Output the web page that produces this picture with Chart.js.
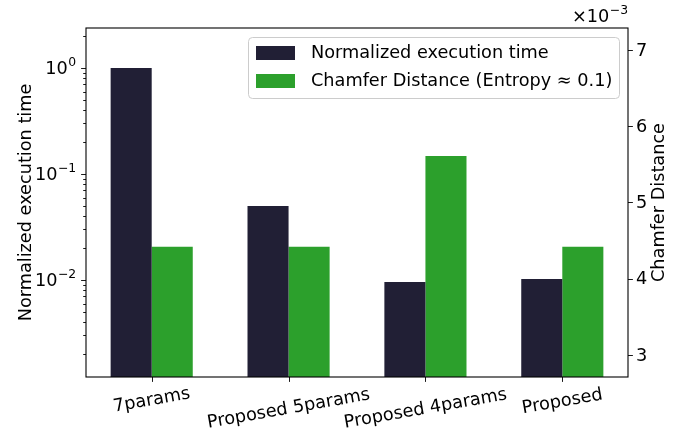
<!DOCTYPE html>
<html>
<head>
<meta charset="utf-8">
<script src="https://cdn.jsdelivr.net/npm/chart.js@4.4.1/dist/chart.umd.min.js"></script>
<style>
  html, body { margin: 0; padding: 0; background: #ffffff; }
  #wrap { width: 683px; height: 431px; }
</style>
</head>
<body>
<div id="wrap"><canvas id="c" width="683" height="431"></canvas></div>
<script>
// ---- data ----
const categories = ['7params', 'Proposed 5params', 'Proposed 4params', 'Proposed'];
const execTime = [1.0, 0.05, 0.0096, 0.0102];          // normalized execution time (log axis)
const chamfer = [0.00442, 0.00442, 0.00561, 0.00442];  // Chamfer distance (linear axis)
const seriesNames = ['Normalized execution time', 'Chamfer Distance (Entropy \u2248 0.1)'];
const logTickValues = [1e-2, 1e-1, 1];
const logTickExponents = ['\u22122', '\u22121', '0'];
const cdTickValues = [0.003, 0.004, 0.005, 0.006, 0.007];
const cdTickLabels = ['3', '4', '5', '6', '7'];
const cdScaleExponent = '\u22123';
const axisTitles = ['Normalized execution time', 'Chamfer Distance'];

// ---- style ----
const DARK = '#211f35';
const GREEN = '#2ca02c';
const FS = 17.7;
const TEXT_FONT = '"DejaVu Sans", sans-serif';
const MATH_FONT = '"DejaVu Sans", sans-serif';
const MAJOR = 4.9, MINOR = 2.8, PAD = 4.9;

function drawMath(ctx, base, exp, x, yCenter, align) {
  // "base^exp": base at full size, exponent smaller and raised
  const fsE = FS * 0.7;
  ctx.font = FS + 'px ' + MATH_FONT;
  const wb = ctx.measureText(base).width;
  ctx.font = fsE + 'px ' + MATH_FONT;
  const we = ctx.measureText(exp).width;
  const total = wb + we + 0.5;
  const x0 = align === 'right' ? x - total : x;
  const baseline = yCenter + FS * 0.365;
  ctx.textAlign = 'left';
  ctx.textBaseline = 'alphabetic';
  ctx.font = FS + 'px ' + MATH_FONT;
  ctx.fillText(base, x0, baseline);
  ctx.font = fsE + 'px ' + MATH_FONT;
  ctx.fillText(exp, x0 + wb + 0.5, baseline - FS * 0.5);
}

const decor = {
  id: 'decor',
  afterDatasetsDraw(chart) {
    const ctx = chart.ctx;
    const a = chart.chartArea;
    const xs = chart.scales.x, yl = chart.scales.y, yr = chart.scales.y2;
    ctx.save();
    ctx.fillStyle = '#000';
    ctx.strokeStyle = '#000';

    // frame
    ctx.lineWidth = 1.1;
    ctx.strokeRect(a.left, a.top, a.right - a.left, a.bottom - a.top);

    // left log ticks (major + minor)
    ctx.lineWidth = 0.9;
    ctx.beginPath();
    for (let d = -4; d <= 1; d++) {
      for (let m = 1; m <= 9; m++) {
        const v = m * Math.pow(10, d);
        if (v < yl.min || v > yl.max) continue;
        const y = Math.round(yl.getPixelForValue(v)) + 0.5;
        const len = m === 1 ? MAJOR : MINOR;
        ctx.moveTo(a.left, y); ctx.lineTo(a.left - len, y);
      }
    }
    // right ticks
    cdTickValues.forEach(v => {
      const y = Math.round(yr.getPixelForValue(v)) + 0.5;
      ctx.moveTo(a.right, y); ctx.lineTo(a.right + MAJOR, y);
    });
    // bottom ticks
    categories.forEach((c, i) => {
      const x = Math.round(xs.getPixelForValue(i)) + 0.5;
      ctx.moveTo(x, a.bottom); ctx.lineTo(x, a.bottom + MAJOR);
    });
    ctx.stroke();

    // left tick labels
    logTickValues.forEach((v, i) => {
      drawMath(ctx, '10', logTickExponents[i], a.left - MAJOR - PAD, yl.getPixelForValue(v), 'right');
    });

    // right tick labels
    ctx.font = FS + 'px ' + TEXT_FONT;
    ctx.textAlign = 'left';
    ctx.textBaseline = 'middle';
    cdTickValues.forEach((v, i) => {
      ctx.fillText(cdTickLabels[i], a.right + MAJOR + 3, yr.getPixelForValue(v) + 1);
    });

    // offset text of the right axis
    ctx.font = FS + 'px ' + MATH_FONT;
    const wx = ctx.measureText('\u00d710').width;
    ctx.font = (FS * 0.7) + 'px ' + MATH_FONT;
    const we = ctx.measureText(cdScaleExponent).width;
    drawMath(ctx, '\u00d710', cdScaleExponent, a.right - wx - we - 0.5, a.top - 12, 'left');

    // rotated category labels
    const th = 10 * Math.PI / 180;
    ctx.font = FS + 'px ' + TEXT_FONT;
    ctx.textAlign = 'left';
    ctx.textBaseline = 'alphabetic';
    categories.forEach((c, i) => {
      const m = ctx.measureText(c);
      const asc = m.actualBoundingBoxAscent, desc = m.actualBoundingBoxDescent, w = m.width;
      const pts = [[0, -asc], [w, -asc], [0, desc], [w, desc]].map(([px, py]) =>
        [px * Math.cos(th) + py * Math.sin(th), -px * Math.sin(th) + py * Math.cos(th)]);
      const minX = Math.min(...pts.map(p => p[0])), maxX = Math.max(...pts.map(p => p[0]));
      const minY = Math.min(...pts.map(p => p[1]));
      const tx = xs.getPixelForValue(i) - (minX + maxX) / 2;
      const ty = a.bottom + MAJOR + 3.5 - minY;
      ctx.save();
      ctx.translate(tx, ty);
      ctx.rotate(-th);
      ctx.fillText(c, 0, 0);
      ctx.restore();
    });

    // axis titles (both read bottom-to-top); x is the baseline position
    ctx.font = FS + 'px ' + TEXT_FONT;
    ctx.textAlign = 'center';
    ctx.textBaseline = 'alphabetic';
    const cy = (a.top + a.bottom) / 2;
    [[30.5, axisTitles[0]], [663.5, axisTitles[1]]].forEach(([x, t]) => {
      ctx.save();
      ctx.translate(x, cy);
      ctx.rotate(-Math.PI / 2);
      ctx.fillText(t, 0, 0);
      ctx.restore();
    });

    // legend
    const lx = 248.5, ly = 37.5, lw = 371, lh = 61, r = 4;
    ctx.beginPath();
    ctx.roundRect(lx, ly, lw, lh, r);
    ctx.fillStyle = 'rgba(255,255,255,0.8)';
    ctx.fill();
    ctx.strokeStyle = '#cccccc';
    ctx.lineWidth = 1;
    ctx.stroke();
    chart.data.datasets.forEach((ds, i) => {
      const yc = 53 + i * 28;
      ctx.fillStyle = ds.backgroundColor;
      ctx.fillRect(256, yc - 7, 39, 14);
      ctx.fillStyle = '#000';
      ctx.font = FS + 'px ' + TEXT_FONT;
      ctx.textAlign = 'left';
      ctx.textBaseline = 'middle';
      ctx.fillText(ds.label, 311, yc);
    });
    ctx.restore();
  }
};

function build() {
  new Chart(document.getElementById('c'), {
    type: 'bar',
    data: {
      datasets: [
        {
          label: seriesNames[0],
          data: execTime.map((v, i) => ({ x: i, y: v })),
          backgroundColor: DARK,
          yAxisID: 'y'
        },
        {
          label: seriesNames[1],
          data: chamfer.map((v, i) => ({ x: i, y: v })),
          backgroundColor: GREEN,
          yAxisID: 'y2'
        }
      ]
    },
    options: {
      responsive: false,
      devicePixelRatio: 1,
      animation: false,
      events: [],
      categoryPercentage: 0.6,
      barPercentage: 1.0,
      layout: { padding: { top: 28, bottom: 0, left: 0, right: 0 } },
      plugins: { legend: { display: false }, tooltip: { enabled: false } },
      scales: {
        x: {
          type: 'linear',
          min: -0.48,
          max: 3.48,
          bounds: 'data',
          offset: false,
          grid: { display: false },
          border: { display: false },
          ticks: { display: false },
          afterBuildTicks: s => { s.ticks = categories.map((c, i) => ({ value: i })); },
          afterFit: s => { s.height = 54; }
        },
        y: {
          type: 'logarithmic',
          position: 'left',
          min: 0.001216,
          max: 2.385,
          bounds: 'data',
          grid: { display: false },
          border: { display: false },
          ticks: { display: false },
          afterFit: s => { s.width = 86; }
        },
        y2: {
          type: 'linear',
          position: 'right',
          min: 0.0027115,
          max: 0.0072885,
          bounds: 'data',
          grid: { display: false },
          border: { display: false },
          ticks: { display: false },
          afterBuildTicks: s => { s.ticks = cdTickValues.map(v => ({ value: v })); },
          afterFit: s => { s.width = 55; }
        }
      }
    },
    plugins: [decor]
  });
}

Promise.all([
  document.fonts.load('16px "DejaVu Sans"')
]).then(build, build);
</script>
</body>
</html>
